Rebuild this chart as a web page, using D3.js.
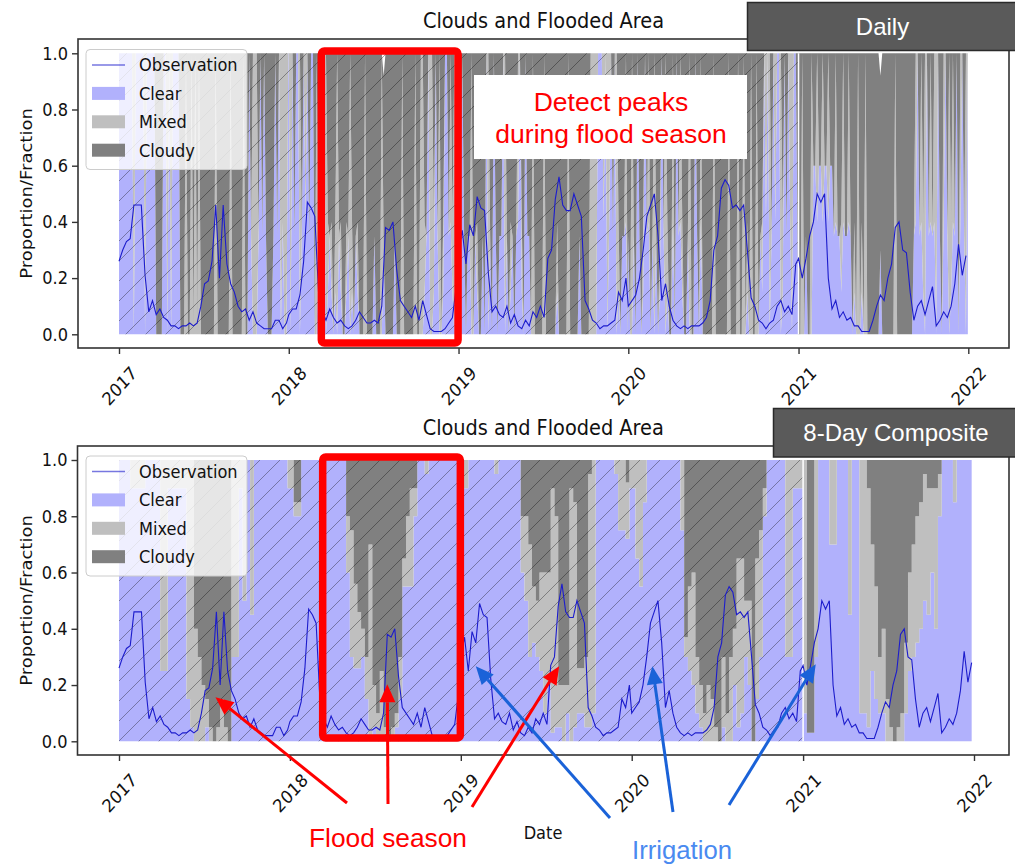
<!DOCTYPE html>
<html>
<head>
<meta charset="utf-8">
<script src="https://cdn.jsdelivr.net/npm/d3@7"></script>
<style>
  body { margin: 0; background: #fff; }
  svg text { font-family: "DejaVu Sans", sans-serif; }
  svg text.note { font-family: "Liberation Sans", Arial, sans-serif; }
</style>
</head>
<body>
<svg id="chart" width="1015" height="866"></svg>
<script>
// ---- data ----
var years = [2017, 2018, 2019, 2020, 2021];
var xTickYears = [2017, 2018, 2019, 2020, 2021, 2022];
var yTicks = [0, 0.2, 0.4, 0.6, 0.8, 1.0];
var seriesKeys = ["clear", "mixed", "cloudy"];
var seriesLabels = ["Clear", "Mixed", "Cloudy"];
var seriesColors = ["#b1b1fc", "#bfbfbf", "#808080"];
var hatchEnd = "2021-01-01";

// daily sky state, one letter per 4 days -> [clear, mixed, cloudy]
var skyCodeValues = {
  c: [1.00, 0.00, 0.00],
  m: [0.00, 1.00, 0.00],
  k: [0.00, 0.00, 1.00],
  a: [0.35, 0.00, 0.65],
  b: [0.15, 0.25, 0.60],
  n: [0.40, 0.60, 0.00],
  d: [0.60, 0.00, 0.40],
  w: [0.30, 0.00, 0.62]
};
var dailySky2017 = "ccccccccmcccccmccccc" + "kkkkccm" + "cmcccc" + "kkkmkkmkmkm" + "kkkkkkkkmkkkkkkkmkkkkkkmkk" + "cammmacacakkkacacmnmmc";
var dailySky2018 = "cmcaccmacncacckma" + "aacmbabkbmabkkbambkab" + "kkkmkkkkakkkmwkkkkkakkkmkkkkkkmkk" + "mmbacmmbcamkbccanbmcn";
var dailySky2019 = "akcakaamkabkkakcmakcaka" + "acmakbakancbkcaakm" + "kkkkkmkkkkkkbkkkkkmkkkkkakkkkkm" + "mmmcccncmncacmbkaank";
var dailySky2020 = "akmakcakbcankamakbcambkkn" + "kcanbkkamkkcakn" + "kkkkkkmkkkkkkkmkkk" + "kmkkmkbkmkkmkab" + "cncmacnccmbcacnmcca";
var dailySky2021 = "kkmkakkm" + "ddnddnddndd" + "anaabnaana" + "kbkmkbkmk" + "kkkkkkwkkkkkkkmkkkkkkkkk" + "ancanbmcana" + "nmcakncambnackncamc";
var dailySky = [dailySky2017, dailySky2018, dailySky2019, dailySky2020, dailySky2021];

// 8-day composite fractions (cloudy = remainder)
var clear8_2017 = [1,1,1,0.9,0.9,0.9,0.9,1,1,1,1,0.25,0.25,0.9,0.9,0.9,0.9,0.9,0.15,0.05,0,0,0,0.05,0,0,0,0,0,0,0.3,0.3,0.9,0.5,1,0.45,1,1,1,1,1,1,1,1,1,0.9];
var mixed8_2017 = [0,0,0,0.1,0.1,0.1,0.1,0,0,0,0,0.75,0.75,0.1,0.1,0.1,0.1,0.1,0.85,0.95,0.4,0.3,0.2,0.1,0.05,0,0.05,0.15,0.05,0,0.7,0.7,0.1,0.5,0,0.55,0,0,0,0,0,0,0,0,0,0.1];
var clear8_2018 = [0.9,0.8,0.8,1,1,1,1,1,1,1,1,1,1,1,1,0.6,0.3,0.26,0.26,0.3,0.15,0,0.05,0,0,0,0,0,0.05,0.15,0.55,0.55,0.55,0.8,1,1,0.95,1,1,1,1,1,1,1,1,1];
var mixed8_2018 = [0.1,0.05,0.05,0,0,0,0,0,0,0,0,0,0,0,0,0.2,0.45,0.3,0.2,0.1,0.15,0.7,0.15,0.1,0.25,0.05,0,0.05,0.05,0.15,0.1,0.25,0.35,0.1,0,0,0.05,0,0,0,0,0,0,0,0,0];
var clear8_2019 = [0.9,0.9,1,1,1,1,1,1,1,0.95,1,1,1,1,1,1,0.6,0.5,0.3,0.35,0.3,0.25,0.1,0.2,0.03,0.05,0.05,0,0.1,0,0.05,0.1,0.1,0.05,0.05,0.1,1,1,1,1,1,0.95,0.75,0.75,0.72,0.9];
var mixed8_2019 = [0.1,0.1,0,0,0,0,0,0,0,0.05,0,0,0,0,0,0,0.2,0.3,0.4,0.2,0.2,0.35,0.5,0.4,0.87,0.75,0.15,0.2,0.1,0.9,0.8,0.16,0.16,0.25,0.9,0.9,0,0,0,0,0,0.05,0.25,0.25,0.2,0.1];
var clear8_2020 = [0.9,0.65,0.55,0.85,1,1,1,1,1,1,1,1,1,0.75,0.3,0.25,0.2,0.1,0.05,0,0,0,0,0,0.05,0,0,0.2,0.05,0.1,0.3,0.2,0,0.15,0.3,0.8,1,1,1,1,1,0.3,0.3,0.9,0.9,0.9];
var mixed8_2020 = [0.1,0.35,0.45,0.15,0,0,0,0,0,0,0,0,0,0.25,0.07,0.3,0.4,0.2,0.15,0.1,0.2,0.15,0.05,0,0.25,0.1,0.3,0.2,0.6,0.55,0.2,0.3,0,0.5,0.45,0.1,0,0,0,0,0,0.7,0.7,0.1,0.1,0.1];
var clear8_2021 = [0.1,0.03,0.03,0.3,1,1,1,0.7,0.7,1,1,1,0.45,1,1,0.1,0.1,0.05,0.25,0.15,0.1,0.1,0,0,0,0,0,0.1,0.25,0.3,0.35,0.4,0.5,0.45,0.6,0.4,0.8,1,1,1,0.85,1,1,1,1,1];
var mixed8_2021 = [0.9,0,0,0.7,0,0,0,0.3,0.3,0,0,0,0.55,0,0,0.9,0.9,0.85,0.45,0.4,0.2,0.3,0.15,0.05,0,0.05,0.1,0.25,0.35,0.4,0.45,0.45,0.45,0.45,0.3,0.5,0.15,0,0,0,0.15,0,0,0,0,0];
var clear8 = [clear8_2017, clear8_2018, clear8_2019, clear8_2020, clear8_2021];
var mixed8 = [mixed8_2017, mixed8_2018, mixed8_2019, mixed8_2020, mixed8_2021];

// observed flooded fraction, 8-day steps
var obs2017 = [0.26,0.30,0.33,0.34,0.46,0.46,0.46,0.21,0.08,0.12,0.07,0.09,0.06,0.05,0.03,0.03,0.02,0.03,0.03,0.04,0.03,0.04,0.10,0.18,0.19,0.26,0.46,0.20,0.46,0.25,0.18,0.15,0.10,0.08,0.09,0.05,0.08,0.04,0.03,0.02,0.02,0.02,0.05,0.05,0.02,0.04];
var obs2018 = [0.07,0.09,0.09,0.14,0.26,0.47,0.45,0.42,0.15,0.08,0.05,0.09,0.06,0.04,0.05,0.03,0.02,0.03,0.05,0.08,0.06,0.04,0.04,0.05,0.04,0.10,0.38,0.37,0.40,0.23,0.12,0.10,0.08,0.06,0.10,0.05,0.12,0.07,0.02,0.01,0.01,0.01,0.02,0.04,0.06,0.17];
var obs2019 = [0.30,0.37,0.25,0.39,0.35,0.49,0.45,0.44,0.22,0.08,0.10,0.07,0.06,0.10,0.04,0.07,0.03,0.02,0.05,0.03,0.08,0.06,0.10,0.06,0.27,0.30,0.48,0.56,0.46,0.44,0.44,0.50,0.46,0.42,0.12,0.09,0.05,0.04,0.02,0.03,0.03,0.04,0.05,0.15,0.12,0.20];
var obs2020 = [0.10,0.12,0.14,0.20,0.30,0.42,0.46,0.50,0.35,0.12,0.18,0.10,0.05,0.03,0.02,0.03,0.02,0.03,0.03,0.03,0.04,0.06,0.12,0.30,0.35,0.52,0.55,0.53,0.45,0.46,0.44,0.46,0.30,0.13,0.10,0.05,0.04,0.02,0.04,0.05,0.10,0.12,0.08,0.10,0.07,0.25];
var obs2021 = [0.27,0.20,0.27,0.35,0.40,0.50,0.47,0.50,0.20,0.09,0.12,0.06,0.08,0.05,0.06,0.03,0.03,0.01,0.01,0.01,0.05,0.10,0.14,0.12,0.20,0.25,0.38,0.40,0.30,0.29,0.15,0.05,0.10,0.12,0.07,0.12,0.17,0.03,0.05,0.08,0.06,0.10,0.18,0.32,0.21,0.28];
var obsByYear = [obs2017, obs2018, obs2019, obs2020, obs2021];

// annotation arrows: tip in lower-panel data space, tail in page space
var floodArrows = [
    {tail: [347, 803], tipDate: "2017-07-26", tipValue: 0.157},
    {tail: [388, 804], tipDate: "2018-07-28", tipValue: 0.203},
    {tail: [472, 807], tipDate: "2019-07-30", tipValue: 0.267}
];
var irrigationArrows = [
    {tail: [610, 818], tipDate: "2019-02-02", tipValue: 0.267},
    {tail: [673, 812], tipDate: "2020-02-14", tipValue: 0.267},
    {tail: [729, 805], tipDate: "2021-01-28", tipValue: 0.274}
];
var floodBox = ["2018-03-12", "2018-12-31"];

// ---- build rows ----
var parseDay = d3.timeParse("%Y-%m-%d");

function dailyRows() {
    var rows = [];
    years.forEach(function(yr, k) {
        var codes = dailySky[k];
        for (var i = 0; i < codes.length; i++) {
            var v = skyCodeValues[codes[i]];
            rows.push({date: new Date(yr, 0, 1 + 4 * i), clear: v[0], mixed: v[1], cloudy: v[2]});
        }
    });
    return rows;
}

function compositeRows() {
    var rows = [];
    years.forEach(function(yr, k) {
        clear8[k].forEach(function(c, i) {
            var m = mixed8[k][i];
            rows.push({date: new Date(yr, 0, 1 + 8 * i), clear: c, mixed: m, cloudy: Math.max(0, 1 - c - m)});
        });
    });
    return rows;
}

var obsRows = [];
years.forEach(function(yr, k) {
    obsByYear[k].forEach(function(v, i) {
        obsRows.push({date: new Date(yr, 0, 1 + 8 * i), value: v});
    });
});

var svg = d3.select("#chart");
var defs = svg.append("defs");
var hatch = defs.append("pattern")
    .attr("id", "hatch")
    .attr("patternUnits", "userSpaceOnUse")
    .attr("width", 20).attr("height", 20);
hatch.append("path")
    .attr("d", "M-5,5 L5,-5 M0,20 L20,0 M15,25 L25,15")
    .attr("stroke", "rgba(0,0,0,0.38)")
    .attr("stroke-width", 0.9);

// horizontal squeeze of the original figure text
var SQ = "scale(0.9,1)";

function drawPanel(cfg) {
    var x = d3.scaleTime()
        .domain([new Date(2017, 0, 1), new Date(2022, 0, 1)])
        .range(cfg.xRange);
    var y = d3.scaleLinear().domain([0, 1]).range(cfg.yRange);
    var g = svg.append("g");
    var f = cfg.frame;

    var stacked = d3.stack().keys(seriesKeys)(cfg.rows);
    var area = d3.area()
        .x(function(d) { return x(d.data.date); })
        .y0(function(d) { return y(d[0]); })
        .y1(function(d) { return y(d[1]); })
        .curve(cfg.curve);
    g.append("g").selectAll("path")
        .data(stacked).enter()
        .append("path")
        .attr("d", area)
        .attr("fill", function(d, i) { return seriesColors[i]; });

    // hatched training period
    var hEnd = parseDay(hatchEnd);
    g.append("rect")
        .attr("x", x(new Date(2017, 0, 1)))
        .attr("y", y(1))
        .attr("width", x(hEnd) - x(new Date(2017, 0, 1)))
        .attr("height", y(0) - y(1))
        .attr("fill", "url(#hatch)");
    g.append("line")
        .attr("x1", x(hEnd)).attr("x2", x(hEnd))
        .attr("y1", y(0)).attr("y2", y(1))
        .attr("stroke", "#fff").attr("stroke-width", 1.5);

    var line = d3.line()
        .x(function(d) { return x(d.date); })
        .y(function(d) { return y(d.value); });
    g.append("path")
        .datum(obsRows)
        .attr("d", line)
        .attr("fill", "none")
        .attr("stroke", "#1c1ccc")
        .attr("stroke-width", 1.1);

    // frame
    g.append("rect")
        .attr("x", f[0]).attr("y", f[1])
        .attr("width", f[2] - f[0]).attr("height", f[3] - f[1])
        .attr("fill", "none").attr("stroke", "#333").attr("stroke-width", 1.6);

    // axes
    var yAxis = g.append("g")
        .attr("transform", "translate(" + f[0] + ",0)")
        .call(d3.axisLeft(y).tickValues(yTicks).tickFormat(d3.format(".1f")).tickSize(6).tickPadding(4));
    yAxis.select(".domain").remove();
    yAxis.selectAll(".tick line").attr("stroke", "#333").attr("stroke-width", 1.4);
    yAxis.selectAll(".tick text")
        .attr("x", null)
        .attr("transform", "translate(-10,0) " + SQ)
        .attr("font-size", 18).attr("font-family", "DejaVu Sans").attr("fill", "#111");

    var xAxis = g.append("g")
        .attr("transform", "translate(0," + f[3] + ")")
        .call(d3.axisBottom(x)
            .tickValues(xTickYears.map(function(yr) { return new Date(yr, 0, 1); }))
            .tickFormat(d3.timeFormat("%Y")).tickSize(6));
    xAxis.select(".domain").remove();
    xAxis.selectAll(".tick line").attr("stroke", "#333").attr("stroke-width", 1.4);
    xAxis.selectAll(".tick text")
        .attr("y", 0).attr("dy", "0.35em")
        .attr("text-anchor", "middle")
        .attr("transform", "translate(0,38) " + SQ + " rotate(-45)")
        .attr("font-size", 18).attr("font-family", "DejaVu Sans").attr("fill", "#111");

    // title and y label
    g.append("text")
        .attr("transform", "translate(" + ((f[0] + f[2]) / 2) + "," + (f[1] - 11) + ") " + SQ)
        .attr("text-anchor", "middle")
        .attr("font-size", 21.5).attr("fill", "#111")
        .text("Clouds and Flooded Area");
    g.append("text")
        .attr("transform", "translate(31.5," + ((f[1] + f[3]) / 2) + ") rotate(-90) scale(1,0.9)")
        .attr("text-anchor", "middle")
        .attr("font-size", 18).attr("fill", "#111")
        .text("Proportion/Fraction");

    // legend
    var lg = g.append("g").attr("transform", "translate(86," + cfg.legendTop + ")");
    lg.append("rect")
        .attr("width", 161).attr("height", 120).attr("rx", 4)
        .attr("fill", "rgba(255,255,255,0.8)").attr("stroke", "#cccccc");
    var items = [{label: "Observation", type: "line"}].concat(seriesLabels.map(function(l, i) {
        return {label: l, type: "patch", color: seriesColors[i]};
    }));
    items.forEach(function(it, i) {
        var cy = 15.5 + i * 28.4;
        if (it.type === "line") {
            lg.append("line").attr("x1", 6).attr("x2", 39).attr("y1", cy).attr("y2", cy)
                .attr("stroke", "#1c1ccc").attr("stroke-opacity", 0.6).attr("stroke-width", 1.3);
        } else {
            lg.append("rect").attr("x", 6).attr("y", cy - 6.5).attr("width", 33).attr("height", 13)
                .attr("fill", it.color);
        }
        lg.append("text")
            .attr("transform", "translate(53," + cy + ") " + SQ)
            .attr("dy", "0.35em")
            .attr("font-size", 18).attr("fill", "#111")
            .text(it.label);
    });

    return {x: x, y: y, boxPad: cfg.boxPad};
}

var topPanel = drawPanel({
    rows: dailyRows(),
    curve: d3.curveLinear,
    frame: [78, 39, 1009, 348],
    xRange: [119, 968.3],
    yRange: [334.3, 53.3],
    legendTop: 49.5,
    boxPad: [2.3, 8.7]
});
var bottomPanel = drawPanel({
    rows: compositeRows(),
    curve: d3.curveStepAfter,
    frame: [77.5, 446, 1009, 755],
    xRange: [119, 974],
    yRange: [741.3, 460],
    legendTop: 456,
    boxPad: [3, -3.3]
});

svg.append("text")
    .attr("transform", "translate(543,839) " + SQ)
    .attr("text-anchor", "middle")
    .attr("font-size", 18).attr("fill", "#111")
    .text("Date");

// ---- annotations ----
// red flood-season boxes
[topPanel, bottomPanel].forEach(function(p) {
    var x0 = p.x(parseDay(floodBox[0])), x1 = p.x(parseDay(floodBox[1]));
    var y0 = p.y(1) - p.boxPad[0], y1 = p.y(0) + p.boxPad[1];
    svg.append("rect")
        .attr("x", x0).attr("y", y0)
        .attr("width", x1 - x0).attr("height", y1 - y0)
        .attr("rx", 3)
        .attr("fill", "none").attr("stroke", "#ff0000").attr("stroke-width", 7.5);
});

// badges
function badge(x0, y0, w, h, label, fs, base) {
    svg.append("rect").attr("x", x0).attr("y", y0).attr("width", w).attr("height", h)
        .attr("fill", "#5a5a5a").attr("stroke", "#2a2a2a").attr("stroke-width", 1.5);
    svg.append("text").attr("class", "note")
        .attr("x", x0 + w / 2).attr("y", base)
        .attr("text-anchor", "middle").attr("font-size", fs).attr("fill", "#fff")
        .text(label);
}
badge(747.5, 2.5, 270, 48, "Daily", 24, 35);
badge(773.5, 408.5, 245, 48.5, "8-Day Composite", 24, 441);

svg.append("rect").attr("x", 474).attr("y", 75).attr("width", 273).attr("height", 84).attr("fill", "#fff");
svg.append("text").attr("class", "note")
    .attr("x", 611).attr("y", 111).attr("text-anchor", "middle")
    .attr("font-size", 26.5).attr("fill", "#ff0000").text("Detect peaks");
svg.append("text").attr("class", "note")
    .attr("x", 611).attr("y", 142.5).attr("text-anchor", "middle")
    .attr("font-size", 26.5).attr("fill", "#ff0000").text("during flood season");

function arrow(a, color) {
    var tip = [bottomPanel.x(parseDay(a.tipDate)), bottomPanel.y(a.tipValue)];
    var dx = tip[0] - a.tail[0], dy = tip[1] - a.tail[1];
    var len = Math.sqrt(dx * dx + dy * dy);
    var ux = dx / len, uy = dy / len;
    var head = 18, half = 8;
    var bx = tip[0] - ux * head, by = tip[1] - uy * head;
    svg.append("line")
        .attr("x1", a.tail[0]).attr("y1", a.tail[1])
        .attr("x2", bx).attr("y2", by)
        .attr("stroke", color).attr("stroke-width", 3);
    svg.append("path")
        .attr("d", "M" + tip[0] + "," + tip[1] +
            "L" + (bx - uy * half) + "," + (by + ux * half) +
            "L" + (bx + uy * half) + "," + (by - ux * half) + "Z")
        .attr("fill", color);
}
floodArrows.forEach(function(a) { arrow(a, "#ff0000"); });
irrigationArrows.forEach(function(a) { arrow(a, "#1a62d8"); });

svg.append("text").attr("class", "note")
    .attr("x", 388).attr("y", 847).attr("text-anchor", "middle")
    .attr("font-size", 26.3).attr("fill", "#ff0000").text("Flood season");
svg.append("text").attr("class", "note")
    .attr("x", 682).attr("y", 859).attr("text-anchor", "middle")
    .attr("font-size", 25.7).attr("fill", "#4a8af0").text("Irrigation");
</script>
</body>
</html>
